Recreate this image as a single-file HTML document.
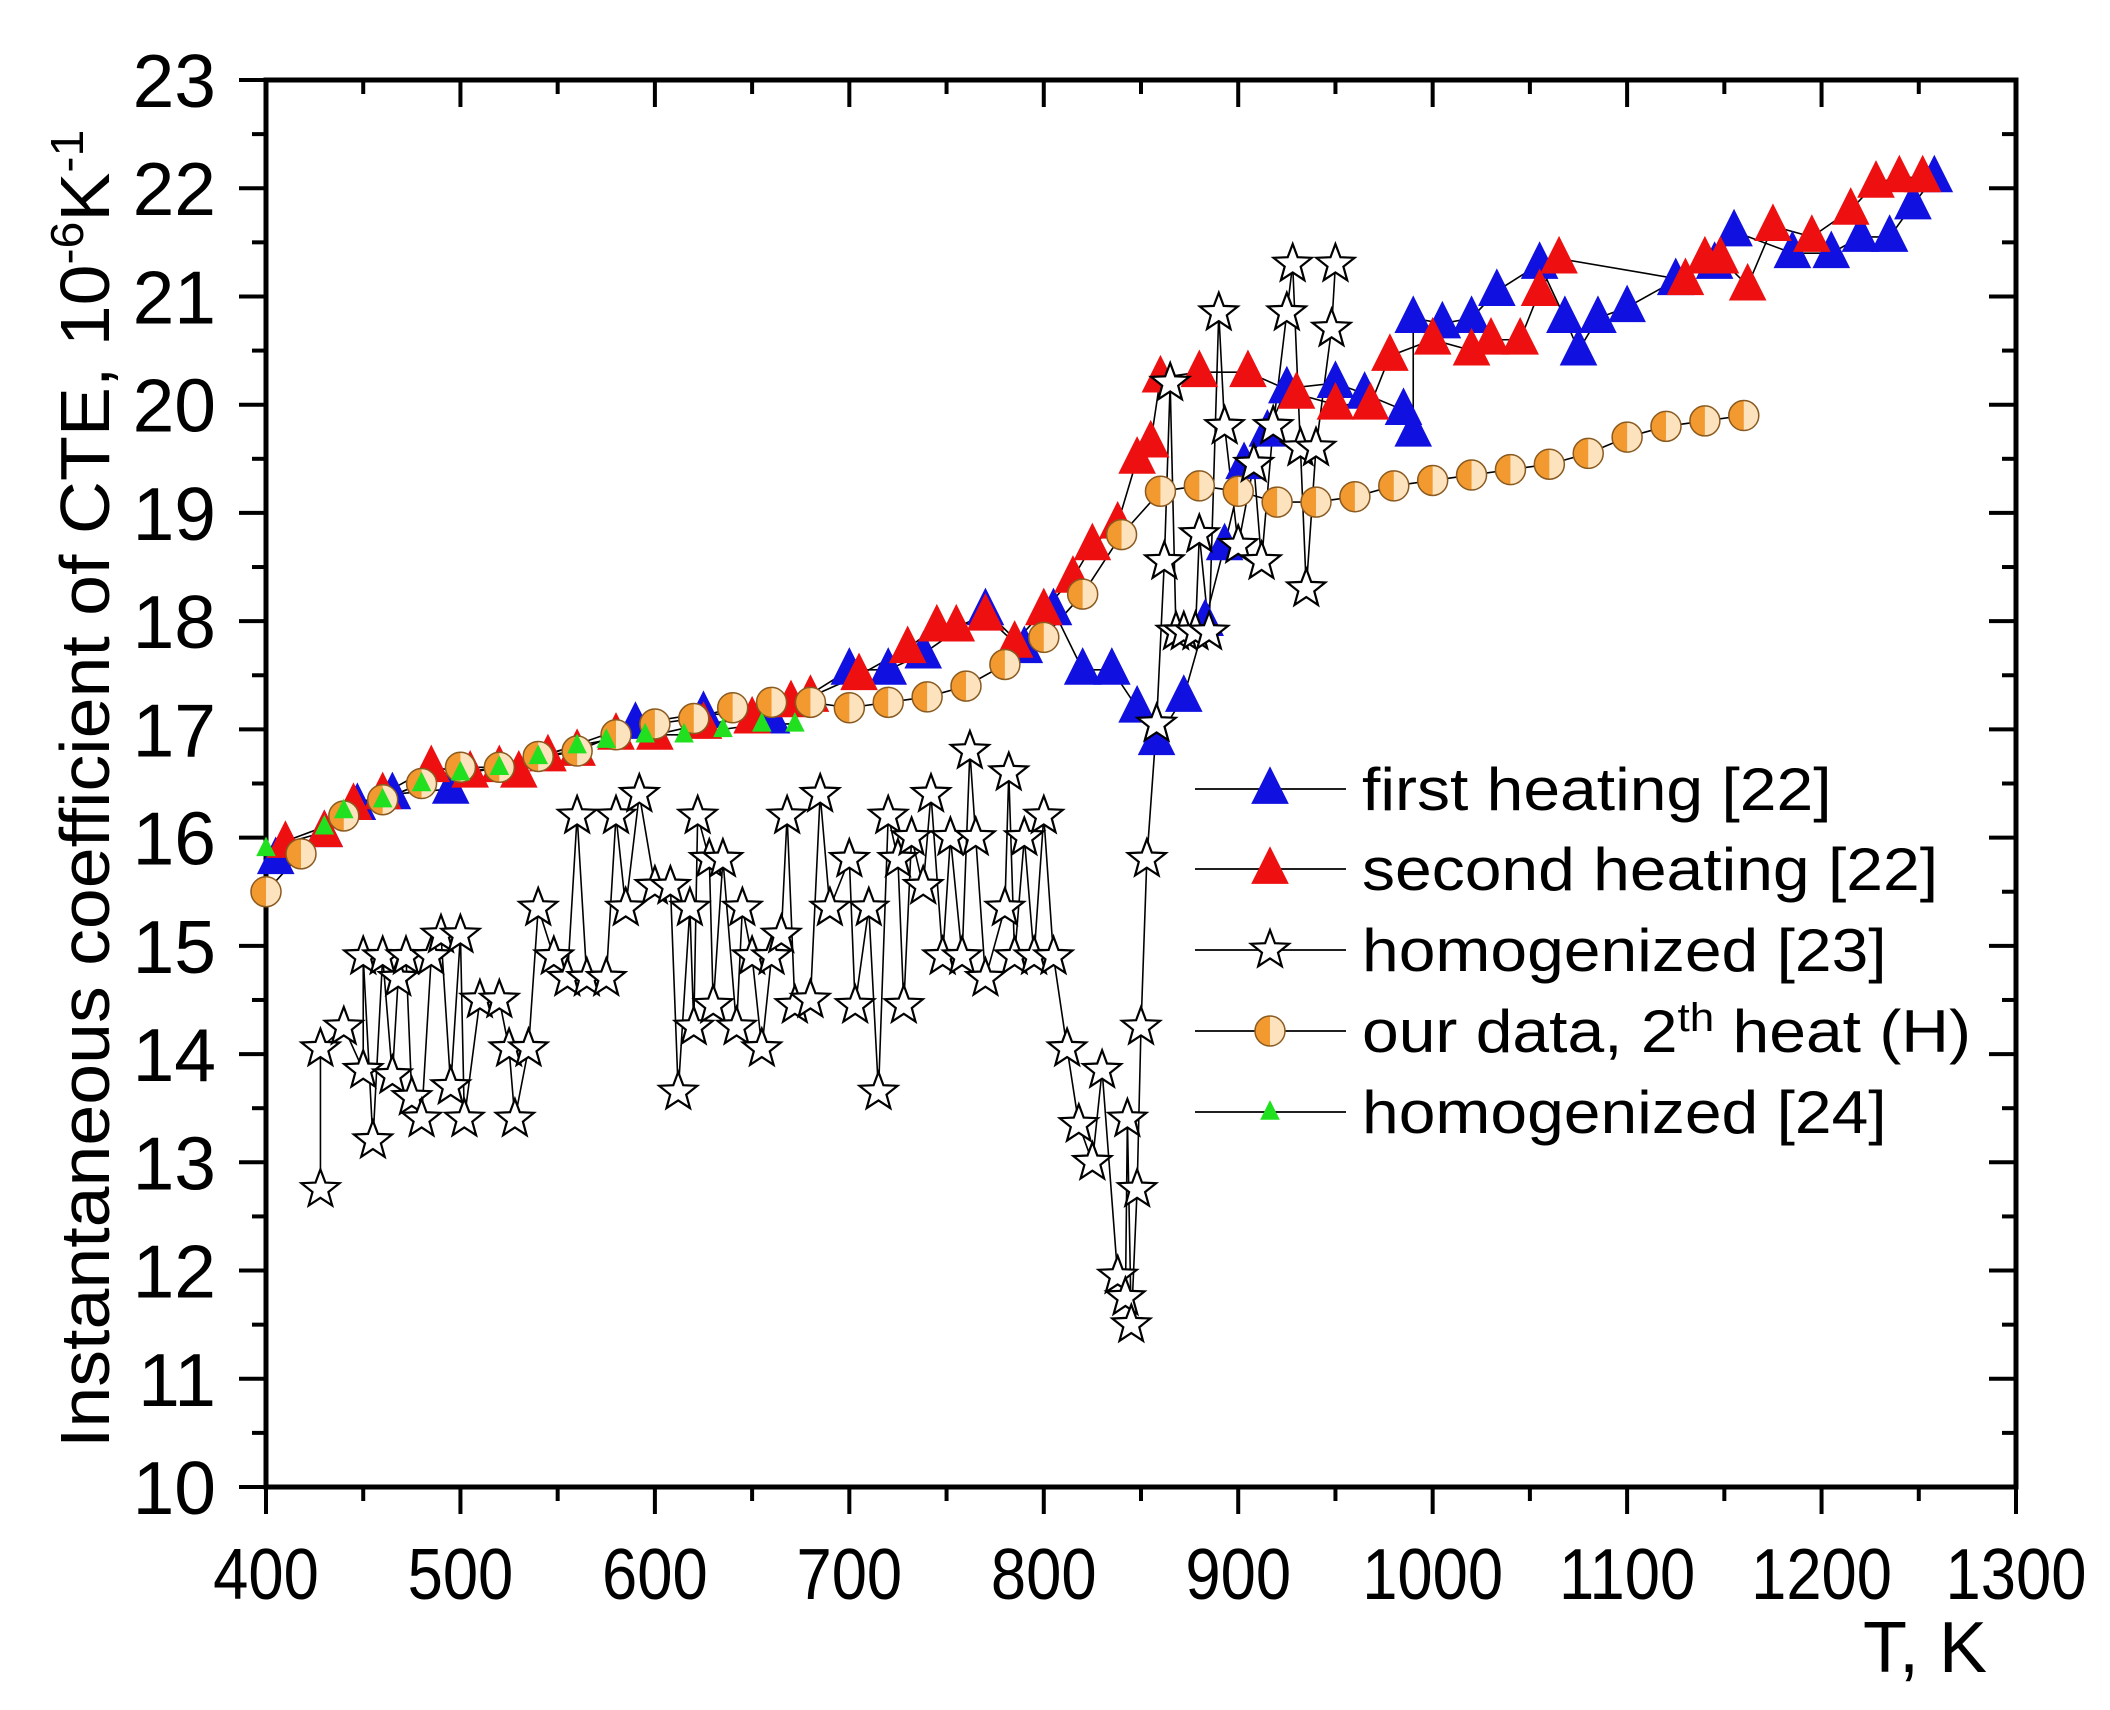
<!DOCTYPE html>
<html><head><meta charset="utf-8">
<style>html,body{margin:0;padding:0;background:#fff}svg{display:block}text{font-family:"Liberation Sans",sans-serif;fill:#000}</style>
</head><body>
<svg id="chart" width="2110" height="1710" viewBox="0 0 2110 1710" xmlns="http://www.w3.org/2000/svg">
<g id="axes"></g>
<g id="series"></g>
<g id="legend"></g>
</svg>
<script>
const xTicks=[400,500,600,700,800,900,1000,1100,1200,1300];
const yTicks=[10,11,12,13,14,15,16,17,18,19,20,21,22,23];
const firstT=[405,430,447,465,495,590,625,660,700,720,738,770,790,805,820,835,848,858,872,883,893,903,915,925,950,965,985,990,990,1005,1020,1033,1055,1068,1075,1085,1100,1125,1145,1155,1185,1205,1220,1235,1247,1258];
const firstV=[15.8,16.05,16.3,16.4,16.45,17.05,17.15,17.1,17.55,17.55,17.7,18.1,17.75,18.1,17.55,17.55,17.2,16.9,17.3,18.0,18.7,19.45,19.75,20.15,20.2,20.1,19.95,19.75,20.8,20.75,20.8,21.05,21.3,20.8,20.5,20.8,20.9,21.15,21.3,21.6,21.4,21.4,21.55,21.55,21.85,22.1];
const secondT=[410,430,445,460,485,505,520,530,545,560,580,600,625,650,670,680,705,730,745,755,770,785,800,815,825,838,848,855,860,880,905,930,950,968,978,1000,1020,1030,1045,1055,1065,1130,1140,1148,1162,1175,1195,1215,1228,1240,1252];
const secondV=[15.95,16.05,16.3,16.4,16.65,16.6,16.65,16.6,16.75,16.8,16.95,16.95,17.05,17.1,17.25,17.3,17.5,17.75,17.95,17.95,18.05,17.8,18.1,18.4,18.7,18.9,19.5,19.65,20.25,20.3,20.3,20.1,20.0,20.0,20.45,20.6,20.5,20.6,20.6,21.05,21.35,21.15,21.35,21.35,21.1,21.65,21.55,21.8,22.05,22.1,22.1];
const oursT=[400,418,440,460,480,500,520,540,560,580,600,620,640,660,680,700,720,740,760,780,800,820,840,860,880,900,920,940,960,980,1000,1020,1040,1060,1080,1100,1120,1140,1160];
const oursV=[15.5,15.85,16.2,16.35,16.5,16.65,16.65,16.75,16.8,16.95,17.05,17.1,17.2,17.25,17.25,17.2,17.25,17.3,17.4,17.6,17.85,18.25,18.8,19.2,19.25,19.2,19.1,19.1,19.15,19.25,19.3,19.35,19.4,19.45,19.55,19.7,19.8,19.85,19.9];
const greenT=[400,430,440,460,480,500,520,540,560,575,595,615,635,655,672];
const greenV=[15.9,16.1,16.25,16.35,16.5,16.6,16.65,16.75,16.85,16.9,16.95,16.95,17.0,17.05,17.05];
const starT=[428,428,440,450,450,455,460,465,468,472,475,480,485,490,495,500,502,510,520,525,528,535,540,548,555,560,565,575,580,585,592,600,608,612,618,620,622,628,630,635,642,645,650,655,660,665,668,672,680,685,690,700,703,710,715,720,725,728,732,738,742,748,752,758,762,765,770,780,782,785,790,795,800,805,812,818,825,830,838,842,843,845,848,850,853,858,862,865,868,872,878,880,885,890,893,900,908,912,918,925,928,932,935,940,948,950];
const starV=[12.75,14.05,14.25,13.85,14.9,13.2,14.9,13.8,14.7,14.9,13.6,13.4,14.9,15.1,13.7,15.1,13.4,14.5,14.5,14.05,13.4,14.05,15.35,14.9,14.7,16.2,14.7,14.7,16.2,15.35,16.4,15.55,15.55,13.65,15.35,14.25,16.2,15.8,14.45,15.8,14.25,15.35,14.9,14.05,14.9,15.1,16.2,14.45,14.5,16.4,15.35,15.8,14.45,15.35,13.65,16.2,15.8,14.45,16.0,15.55,16.4,14.9,16.0,14.9,16.8,16.0,14.7,15.35,16.6,14.9,16.0,14.9,16.2,14.9,14.05,13.35,13.0,13.85,11.95,11.75,13.4,11.5,12.75,14.25,15.8,17.05,18.55,20.2,17.9,17.9,17.9,18.8,17.9,20.85,19.8,18.7,19.45,18.55,19.8,20.85,21.3,19.6,18.3,19.6,20.7,21.3];
const legendLabels=["first heating [22]","second heating [22]","homogenized [23]","our data, 2th heat (H)","homogenized [24]"];

const L=266,R=2016,T=80,B=1487;
const xs=t=>L+(t-400)/900*(R-L);
const ys=v=>B-(v-10)/13*(B-T);
const NS='http://www.w3.org/2000/svg';
function mk(tag,attrs,parent){const e=document.createElementNS(NS,tag);for(const k in attrs)e.setAttribute(k,attrs[k]);parent.appendChild(e);return e;}
const ax=document.getElementById('axes'),sg=document.getElementById('series'),lg=document.getElementById('legend');

for(let t=400;t<=1300;t+=50){const maj=t%100===0;const x=xs(t);
 const a=mk('line',{x1:x,x2:x,y1:B,y2:B+(maj?27:14),stroke:'#000','stroke-width':4},ax);
 
 const b=mk('line',{x1:x,x2:x,y1:T,y2:T+(maj?27:14),stroke:'#000','stroke-width':4},ax);
 }
for(let v=10;v<=23;v+=0.5){const maj=Math.abs(v-Math.round(v))<1e-6;const y=ys(v);
 const a=mk('line',{x1:L-(maj?27:14),x2:L,y1:y,y2:y,stroke:'#000','stroke-width':4},ax);
 
 const b=mk('line',{x1:R-(maj?27:14),x2:R,y1:y,y2:y,stroke:'#000','stroke-width':4},ax);
 }
const fr=mk('rect',{x:L,y:T,width:R-L,height:B-T,fill:'none',stroke:'#000','stroke-width':5},ax);

xTicks.forEach(t=>{const e=mk('text',{x:xs(t),y:B+112,'font-size':72,'text-anchor':'middle',transform:`translate(${xs(t)},0) scale(0.88,1) translate(${-xs(t)},0)`},ax);e.textContent=t;
 });
yTicks.forEach(v=>{const e=mk('text',{x:L-50,y:ys(v)+27,'font-size':75,'text-anchor':'end'},ax);e.textContent=v;
 });
const xt=mk('text',{x:1925,y:1672,'font-size':72,'text-anchor':'middle'},ax);xt.textContent='T, K';

const yt=mk('text',{x:0,y:0,'font-size':70,'text-anchor':'start',transform:'translate(109,1448) rotate(-90) scale(1.05,1)'},ax);
yt.innerHTML='Instantaneous coefficient of CTE, 10<tspan dy="-26" font-size="46">-6</tspan><tspan dy="26">K</tspan><tspan dy="-26" font-size="46">-1</tspan>';


function tri(x,y,s,fill,parent){return mk('path',{d:`M${x},${y-s*0.6}L${x+s/2},${y+s*0.4}L${x-s/2},${y+s*0.4}Z`,fill:fill,stroke:fill,'stroke-width':1},parent);}
function star(x,y,r,parent){let d='';for(let i=0;i<10;i++){const rr=i%2?r*0.42:r;const a=-Math.PI/2+i*Math.PI/5;d+=(i?'L':'M')+(x+rr*Math.cos(a)).toFixed(1)+','+(y+rr*Math.sin(a)).toFixed(1);}return mk('path',{d:d+'Z',fill:'#fff',stroke:'#000','stroke-width':2.2},parent);}
function circ(x,y,r,parent){const g=mk('g',{},parent);mk('circle',{cx:x,cy:y,r:r,fill:'#fde3bd'},g);
 mk('path',{d:`M${x},${y-r}A${r},${r} 0 0 0 ${x},${y+r}Z`,fill:'#f29a30'},g);mk('circle',{cx:x,cy:y,r:r,fill:'none',stroke:'#8a5a20','stroke-width':1.5},g);return g;}
function line(Ts,Vs,w,name){const p=mk('polyline',{points:Ts.map((t,i)=>xs(t)+','+ys(Vs[i])).join(' '),fill:'none',stroke:'#000','stroke-width':w},sg);
 }

line(starT,starV,1.6,'homogenized-23-line');
line(firstT,firstV,1.6,'first-heating-line');
line(secondT,secondV,1.6,'second-heating-line');
line(oursT,oursV,1.6,'our-data-line');
line(greenT,greenV,1.6,'homogenized-24-line');
firstT.forEach((t,i)=>{const m=tri(xs(t),ys(firstV[i]),36,'#1010e0',sg);});
secondT.forEach((t,i)=>{const m=tri(xs(t),ys(secondV[i]),36,'#ee1010',sg);});
oursT.forEach((t,i)=>{const m=circ(xs(t),ys(oursV[i]),15,sg);});
greenT.forEach((t,i)=>{const m=tri(xs(t),ys(greenV[i]),18,'#20e020',sg);});
starT.forEach((t,i)=>{const m=star(xs(t),ys(starV[i]),20,sg);});

const rowsY=[789,869,950,1031,1112];
rowsY.forEach((y,i)=>{const g=mk('g',{},lg);
 mk('line',{x1:1195,x2:1346,y1:y,y2:y,stroke:'#000','stroke-width':1.8},g);
 if(i===0)tri(1270,y,36,'#1010e0',g);
 if(i===1)tri(1270,y,36,'#ee1010',g);
 if(i===2)star(1270,y,20,g);
 if(i===3)circ(1270,y,15,g);
 if(i===4)tri(1270,y,18,'#20e020',g);
 const tx=mk('text',{x:1362,y:y+21,'font-size':60,transform:`translate(1362,0) scale(1.1,1) translate(-1362,0)`},g);
 if(i===3){tx.innerHTML='our data, 2<tspan dy="-21" font-size="40">th</tspan><tspan dy="21"> heat (H)</tspan>';}
 else tx.textContent=legendLabels[i];
});
</script>
</body></html>
